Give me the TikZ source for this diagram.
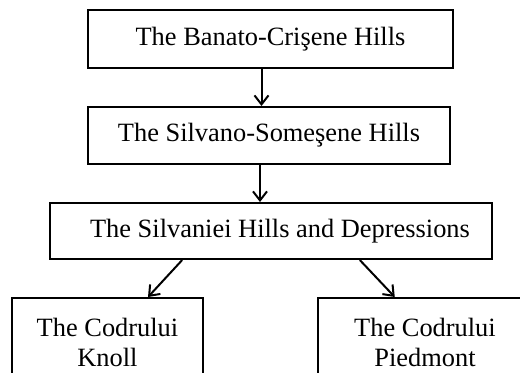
\documentclass[tikz,border=0pt]{standalone}
\usepackage{fontspec}
\setmainfont{Liberation Serif}
\usetikzlibrary{positioning,arrows.meta,calc}

\begin{document}
\begin{tikzpicture}[x=0.5pt, y=-0.5pt, line width=1pt,
  box/.style={draw, rectangle, inner sep=0pt, align=center,
    font=\fontsize{13.2}{15}\selectfont},
  arr/.style={-{Straight Barb[length=4.5pt,width=7pt]}}]
  \useasboundingbox (0,0) rectangle (520,372);
  \clip (0,0) rectangle (520,372);
  % hill units
  \node[box, minimum width=182.5pt, minimum height=29pt] (banato) at (270.5,39) {The Banato-Crişene Hills};
  \node[box, minimum width=181pt, minimum height=28.5pt] (somesene) at (269,135.5) {The Silvano-Someşene Hills};
  \node[box, minimum width=221pt, minimum height=28pt] (silvaniei) at (271,231) {\hspace{9pt}The Silvaniei Hills and Depressions};
  % subunits (cut at the bottom)
  \node[box, minimum width=95.5pt, minimum height=44pt] (knoll) at (107.5,342) {The Codrului\\Knoll};
  \node[box, minimum width=107pt, minimum height=44pt] (piedmont) at (425,342) {The Codrului\\Piedmont};
  % links
  \draw[arr] ([xshift=-4.5pt]banato.south) -- ([xshift=-4.5pt]banato.south |- somesene.north);
  \draw[arr] ([xshift=-4.5pt]somesene.south) -- ([xshift=-4.5pt]somesene.south |- silvaniei.north);
  \draw[arr] ($(silvaniei.south west)!0.3!(silvaniei.south east)$) -- ($(knoll.north west)!0.71!(knoll.north east)$);
  \draw[arr] ($(silvaniei.south west)!0.7!(silvaniei.south east)$) -- ($(piedmont.north west)!0.36!(piedmont.north east)$);
\end{tikzpicture}
\end{document}
